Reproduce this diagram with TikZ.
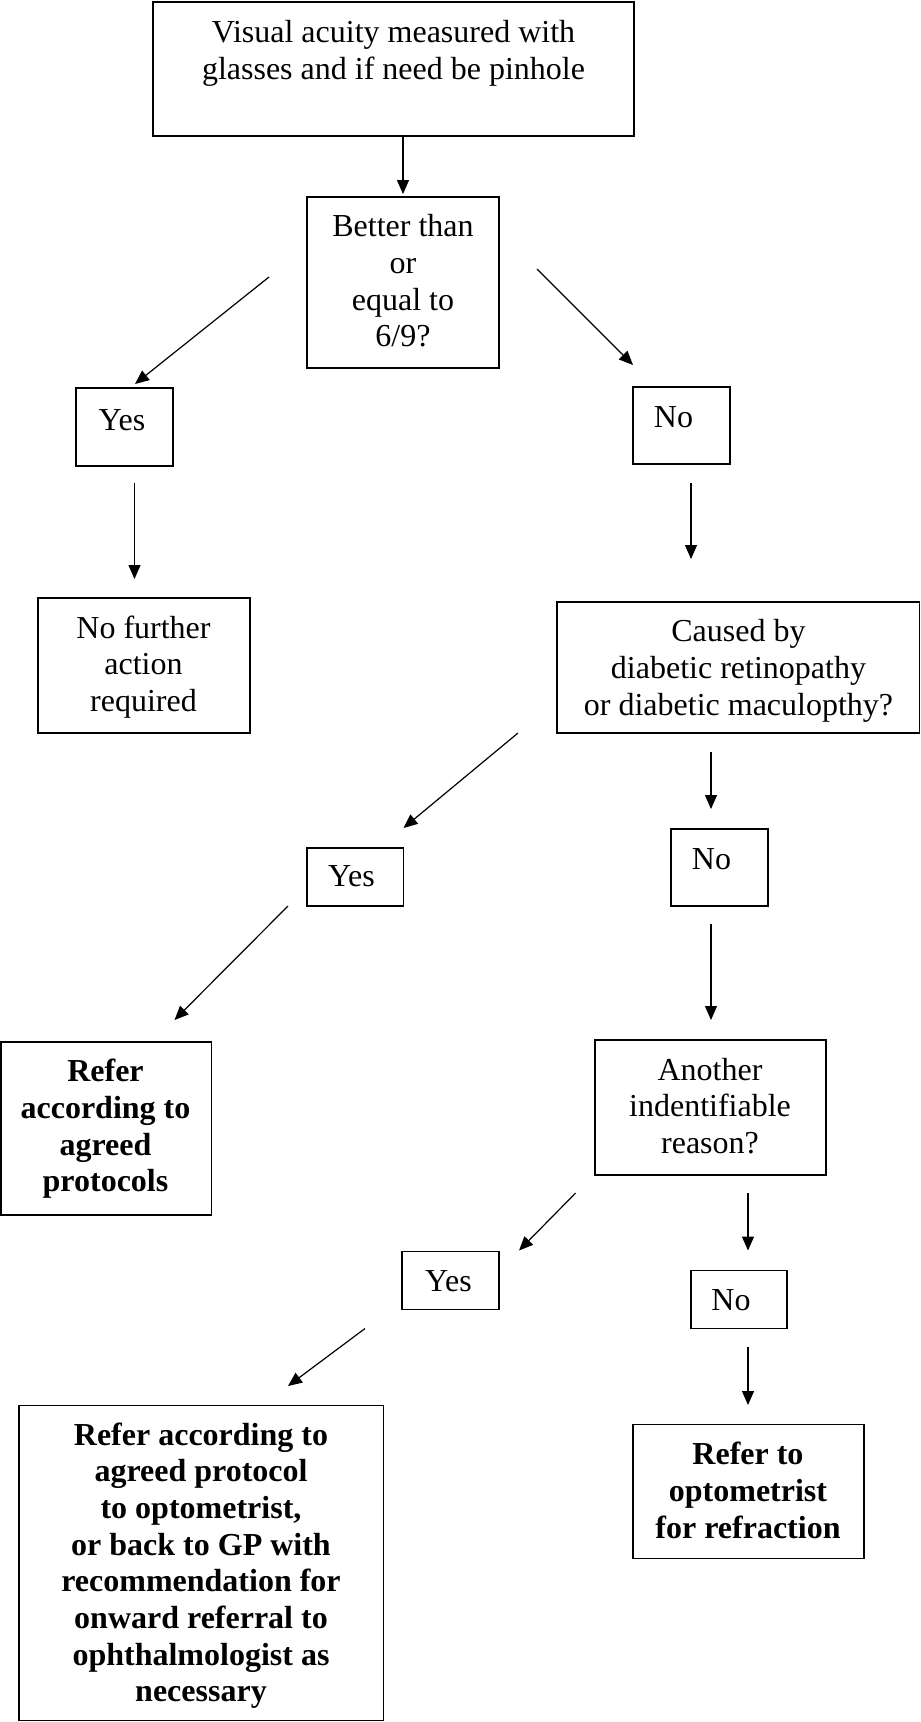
\documentclass[tikz,border=0pt]{standalone}
\usepackage{fontspec}
\setmainfont{Liberation Serif}
\usetikzlibrary{arrows.meta}

% stacked, centred lines whose first baseline is the node baseline
\newcommand\rows[1]{\begin{tabular}[t]{@{}c@{}}#1\end{tabular}}

\begin{document}
\begin{tikzpicture}[x=1pt, y=-1pt,
  frame/.style={draw, line width=1.3pt, inner sep=0pt, outer sep=0pt, anchor=north west},
  txt/.style={anchor=base, inner sep=0pt, font=\fontsize{32}{36.7}\selectfont},
  btxt/.style={anchor=base, inner sep=0pt, font=\fontsize{32}{36.7}\selectfont\bfseries},
  flow/.style={line width=1.2pt, -{Triangle[length=14pt, width=12pt]}}]

\useasboundingbox (0,0) rectangle (921,1722);

% ---- boxes ----
\node[frame, minimum width=481pt, minimum height=134pt] (top)     at (153,2)    {};
\node[frame, minimum width=192pt, minimum height=171pt] (q1)      at (307,197)  {};
\node[frame, minimum width=97pt,  minimum height=78pt]  (yes1)    at (76,388)   {};
\node[frame, minimum width=97pt,  minimum height=77pt]  (no1)     at (633,387)  {};
\node[frame, minimum width=212pt, minimum height=135pt] (nfa)     at (38,598)   {};
\node[frame, minimum width=362.5pt, minimum height=131pt] (caused) at (557,602) {};
\node[frame, minimum width=96.5pt, minimum height=58pt] (yes2)    at (307,848)  {};
\node[frame, minimum width=97pt,  minimum height=77pt]  (no2)     at (671,829)  {};
\node[frame, minimum width=210.5pt, minimum height=173pt] (refer1) at (1,1042)  {};
\node[frame, minimum width=231pt, minimum height=135pt] (another) at (595,1040) {};
\node[frame, minimum width=97pt,  minimum height=58pt]  (yes3)    at (402,1251.5) {};
\node[frame, minimum width=96pt,  minimum height=58pt]  (no3)     at (691,1270.5) {};
\node[frame, minimum width=364.5pt, minimum height=315pt] (big)   at (19,1405.5) {};
\node[frame, minimum width=231pt, minimum height=134pt] (referto) at (633,1424.5) {};

% ---- texts ----
\node[txt] (ttop) at (393.5,42.7) {\rows{Visual acuity measured with\\glasses and if need be pinhole}};
\node[txt] (tq1) at (403,236.7) {\rows{Better than\\or\\equal to\\6/9?}};
\node[txt] (tyes1) at (122,430) {Yes};
\node[txt] (tno1) at (673.5,427.7) {No};
\node[txt] (tnfa) at (143.5,638) {\rows{No further\\action\\required}};
\node[txt] (tcaused) at (738.5,641.7) {\rows{Caused by\\diabetic retinopathy\\or diabetic maculopthy?}};
\node[txt] (tyes2) at (351.5,886.7) {Yes};
\node[txt] (tno2) at (711.5,869.3) {No};
\node[btxt] (trefer1) at (105.5,1081.7) {\rows{Refer\\according to\\agreed\\protocols}};
\node[txt] (tanother) at (710,1080) {\rows{Another\\indentifiable\\reason?}};
\node[txt] (tyes3) at (448.5,1291.5) {Yes};
\node[txt] (tno3) at (731,1310.5) {No};
\node[btxt] (tbig) at (201,1445) {\rows{Refer according to\\agreed protocol\\to optometrist,\\or back to GP with\\recommendation for\\onward referral to\\ophthalmologist as\\necessary}};
\node[btxt] (treferto) at (748,1464.7) {\rows{Refer to\\optometrist\\for refraction}};

% ---- arrow end points ----
\coordinate (a1s) at (403,136);    \coordinate (a1e) at (403,194);
\coordinate (a2s) at (269,277);    \coordinate (a2e) at (135,384);
\coordinate (a3s) at (537,269);    \coordinate (a3e) at (633,365);
\coordinate (a4s) at (134.5,483);  \coordinate (a4e) at (134.5,579);
\coordinate (a5s) at (691,483);    \coordinate (a5e) at (691,559);
\coordinate (a6s) at (518,733);    \coordinate (a6e) at (403.5,828);
\coordinate (a7s) at (711,752);    \coordinate (a7e) at (711,809);
\coordinate (a8s) at (288,906);    \coordinate (a8e) at (174.5,1020);
\coordinate (a9s) at (711,924);    \coordinate (a9e) at (711,1020);
\coordinate (a10s) at (575.6,1193); \coordinate (a10e) at (519,1250.5);
\coordinate (a11s) at (748,1193);  \coordinate (a11e) at (748,1250.5);
\coordinate (a12s) at (365,1328.5); \coordinate (a12e) at (288,1386);
\coordinate (a13s) at (748,1346.5); \coordinate (a13e) at (748,1405);

% ---- connectors ----
\foreach \i in {1,...,13} {
  \draw[flow] (a\i s) -- (a\i e);
}
\end{tikzpicture}
\end{document}
